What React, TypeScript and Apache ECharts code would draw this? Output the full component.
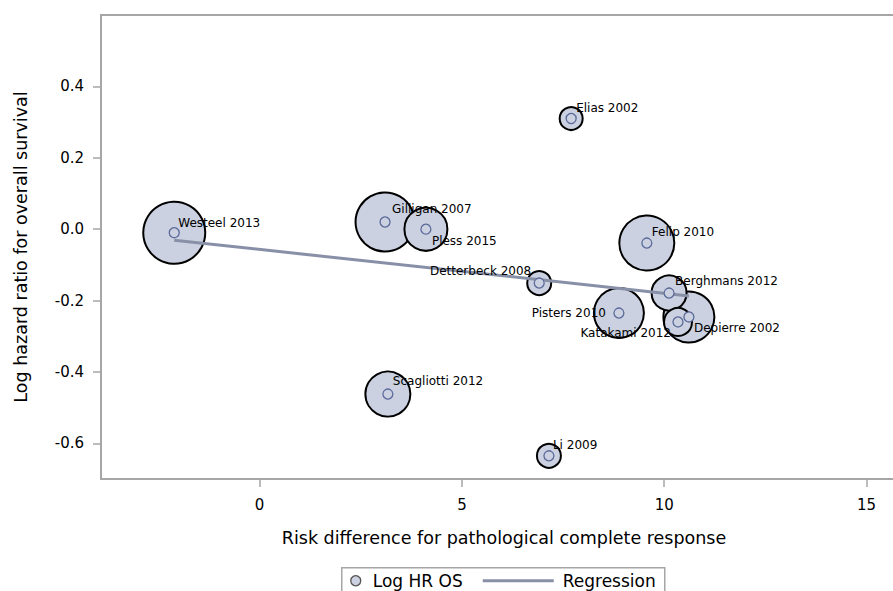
import React, { useEffect, useRef } from "react";
import * as echarts from "echarts";

const studies = [
  "Westeel 2013", "Gilligan 2007", "Pless 2015", "Detterbeck 2008", "Elias 2002", "Li 2009",
  "Scagliotti 2012", "Felip 2010", "Berghmans 2012", "Pisters 2010", "Katakami 2012", "Depierre 2002",
];
const riskDiff = [-2.11, 3.10, 4.11, 6.91, 7.70, 7.15, 3.17, 9.57, 10.12, 8.88, 10.34, 10.61];
const logHR = [-0.01, 0.02, 0.0, -0.151, 0.31, -0.635, -0.462, -0.039, -0.179, -0.235, -0.26, -0.246];
const weights = [31, 29.5, 21.5, 12, 11.5, 12, 22.5, 27.5, 17.5, 25, 14, 25.5];
const regX = [-2.11, 10.61];
const regY = [-0.031, -0.187];
const xTicks = [0, 5, 10, 15];
const yTicks = [-0.6, -0.4, -0.2, 0, 0.2, 0.4];

// label placement (style): [align, dx, dy]
const labelPlace: Record<string, [string, number, number]> = {
  "Westeel 2013": ["left", 4, -10],
  "Gilligan 2007": ["left", 7, -13],
  "Pless 2015": ["left", 6, 12],
  "Detterbeck 2008": ["right", -8, -12],
  "Elias 2002": ["left", 5, -11],
  "Li 2009": ["left", 4, -11],
  "Scagliotti 2012": ["left", 5, -13],
  "Felip 2010": ["left", 5, -11],
  "Berghmans 2012": ["left", 6, -12],
  "Pisters 2010": ["right", -13, 0],
  "Katakami 2012": ["right", -7, 11],
  "Depierre 2002": ["left", 5, 11],
};

const FONT = "DejaVu Sans";
const FILL = "#cbd1e0";
const MARK = "#5b6a9a";
const REG = "#8890a8";
const AXIS = "#a6a6a6";

export default function App() {
  const ref = useRef<HTMLDivElement>(null);
  useEffect(() => {
    if (!ref.current) return;
    document.body.style.overflow = "hidden";
    const chart = echarts.init(ref.current, null, { renderer: "svg" });
    const idx = studies.map((_, i) => i).sort((a, b) => weights[b] - weights[a]);
    const bubbleData = idx.map((i) => ({ name: studies[i], value: [riskDiff[i], logHR[i], weights[i]] }));
    const markerData = studies.map((s, i) => {
      const p = labelPlace[s];
      return {
        name: s,
        value: [riskDiff[i], logHR[i]],
        label: { align: p[0], offset: [p[1], p[2]] },
      };
    });
    chart.setOption({
      animation: false,
      grid: {
        left: 101, top: 15, right: 3, bottom: 112,
        show: true, borderColor: AXIS, borderWidth: 2, backgroundColor: "transparent",
      },
      xAxis: {
        type: "value", min: -3.92, max: 16,
        name: "Risk difference for pathological complete response",
        nameLocation: "middle", nameGap: 50,
        nameTextStyle: { fontFamily: FONT, fontSize: 17.5, color: "#000" },
        axisLine: { show: true, onZero: false, lineStyle: { color: AXIS, width: 2 } },
        axisTick: { show: true, length: 8, customValues: xTicks, lineStyle: { color: AXIS, width: 1.5 } },
        axisLabel: { customValues: xTicks, margin: 18, fontFamily: FONT, fontSize: 15, color: "#000" },
        splitLine: { show: false },
      },
      yAxis: {
        type: "value", min: -0.7, max: 0.6,
        name: "Log hazard ratio for overall survival",
        nameLocation: "middle", nameGap: 71,
        nameTextStyle: { fontFamily: FONT, fontSize: 17.5, color: "#000" },
        axisLine: { show: true, onZero: false, lineStyle: { color: AXIS, width: 2 } },
        axisTick: { show: true, length: 8, customValues: yTicks, lineStyle: { color: AXIS, width: 1.5 } },
        axisLabel: {
          customValues: yTicks, margin: 17, fontFamily: FONT, fontSize: 15, color: "#000",
          formatter: (v: number) => v.toFixed(1),
        },
        splitLine: { show: false },
      },
      series: [
        {
          type: "scatter", name: "Log HR OS bubbles", silent: true, z: 2,
          data: bubbleData,
          symbol: "circle",
          symbolSize: (v: number[]) => v[2] * 2,
          itemStyle: { color: FILL, borderColor: "#000", borderWidth: 2, opacity: 1 },
        },
        {
          type: "line", name: "Regression", silent: true, z: 3,
          data: regX.map((x, i) => [x, regY[i]]),
          symbol: "none",
          lineStyle: { color: REG, width: 3 },
        },
        {
          type: "scatter", name: "Log HR OS", silent: true, z: 4,
          data: markerData,
          symbol: "circle", symbolSize: 10,
          itemStyle: { color: FILL, borderColor: MARK, borderWidth: 1.3, opacity: 1 },
          label: {
            show: true, position: "inside", verticalAlign: "middle",
            formatter: "{b}", fontFamily: FONT, fontSize: 12, color: "#000",
          },
        },
      ],
      graphic: [
        {
          type: "group", left: 341, top: 567,
          children: [
            { type: "rect", shape: { x: 0, y: 0, width: 323, height: 40 }, style: { fill: "#fff", stroke: AXIS, lineWidth: 1.5 } },
            { type: "circle", shape: { cx: 14, cy: 13, r: 5 }, style: { fill: FILL, stroke: "#555", lineWidth: 1.3 } },
            { type: "text", x: 31, y: 13, style: { text: "Log HR OS", fontFamily: FONT, fontSize: 17, fill: "#000", verticalAlign: "middle" } },
            { type: "line", shape: { x1: 141, y1: 13, x2: 212, y2: 13 }, style: { stroke: REG, lineWidth: 3 } },
            { type: "text", x: 221, y: 13, style: { text: "Regression", fontFamily: FONT, fontSize: 17, fill: "#000", verticalAlign: "middle" } },
          ],
        },
      ],
    });
    return () => chart.dispose();
  }, []);
  return <div ref={ref} style={{ position: "fixed", left: 0, top: 0, width: 910, height: 591, background: "#fff" }} />;
}
